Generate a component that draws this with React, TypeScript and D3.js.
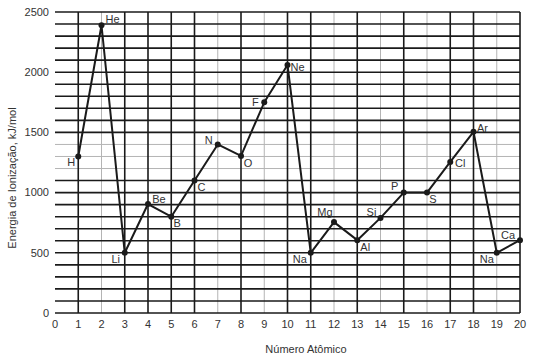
import * as d3 from 'd3'

// data
const atomicNumbers = [1, 2, 3, 4, 5, 6, 7, 8, 9, 10, 11, 12, 13, 14, 15, 16, 17, 18, 19, 20]
const energies = [1300, 2390, 500, 905, 800, 1100, 1400, 1305, 1750, 2060, 500, 755, 605, 790, 1000, 1000, 1255, 1505, 500, 605]
const symbols = ['H', 'He', 'Li', 'Be', 'B', 'C', 'N', 'O', 'F', 'Ne', 'Na', 'Mg', 'Al', 'Si', 'P', 'S', 'Cl', 'Ar', 'Na', 'Ca']
const xTicks = d3.range(0, 21)
const yTicks = [0, 500, 1000, 1500, 2000, 2500]
const gridY = d3.range(0, 2600, 100)
const grayGridY = [1200, 1300, 1400]
const grayGridX = [2, 7, 9, 12, 14, 16, 19]

// label offsets (px) from each point
const labelOffsets: [number, number][] = [
  [-7, 6], [11, -6], [-9, 6], [11, -5], [6, 6], [7, 7], [-9, -4], [7, 7], [-9, 0], [10, 2],
  [-11, 6], [-9, -10], [8, 7], [-9, -6], [-9, -6], [6, 7], [10, 1], [9, -4], [-10, 6], [-12, -5],
]

const W = 552
const H = 362
const margin = { top: 12, right: 32, bottom: 49, left: 55 }
const font = "'Liberation Sans', Arial, sans-serif"

export default function App() {
  const x = d3.scaleLinear().domain([0, 20]).range([margin.left, W - margin.right])
  const y = d3.scaleLinear().domain([0, 2500]).range([H - margin.bottom, margin.top])

  const line = d3.line<number>()
    .x((_, i) => x(atomicNumbers[i]))
    .y(d => y(d))

  const black = '#1a1a1a'
  const gray = '#b4b4b4'

  return (
    <svg width={W} height={H} style={{ position: 'absolute', left: 0, top: 0, background: '#fff' }}>
      {/* gray grid first */}
      {gridY.filter(v => grayGridY.includes(v)).map(v => (
        <line key={'gy' + v} x1={x(0)} x2={x(20)} y1={y(v)} y2={y(v)} stroke={gray} strokeWidth={1} />
      ))}
      {xTicks.filter(t => grayGridX.includes(t)).map(t => (
        <line key={'gx' + t} x1={x(t)} x2={x(t)} y1={y(0)} y2={y(2500)} stroke={gray} strokeWidth={1} />
      ))}
      {gridY.filter(v => !grayGridY.includes(v)).map(v => (
        <line key={'by' + v} x1={x(0)} x2={x(20)} y1={y(v)} y2={y(v)} stroke={black} strokeWidth={1.6} />
      ))}
      {xTicks.filter(t => t > 0 && !grayGridX.includes(t)).map(t => (
        <line key={'bx' + t} x1={x(t)} x2={x(t)} y1={y(0)} y2={y(2500)} stroke={black} strokeWidth={1.6} />
      ))}

      {/* tick labels */}
      {yTicks.map(v => (
        <text key={'yl' + v} x={x(0) - 6} y={y(v)} dy="0.35em" textAnchor="end" fontFamily={font} fontSize={11} fill="#333">{v}</text>
      ))}
      {xTicks.map(t => (
        <text key={'xl' + t} x={x(t)} y={y(0) + 11} dy="0.35em" textAnchor="middle" fontFamily={font} fontSize={11} fill="#333">{t}</text>
      ))}

      {/* axis titles */}
      <text x={306} y={349} dy="0.35em" textAnchor="middle" fontFamily={font} fontSize={11} fill="#333">Número Atômico</text>
      <text transform="translate(12,178) rotate(-90)" dy="0.35em" textAnchor="middle" fontFamily={font} fontSize={11} fill="#333">Energia de Ionização,  kJ/mol</text>

      {/* series */}
      <path d={line(energies) ?? ''} fill="none" stroke={black} strokeWidth={2} strokeLinejoin="round" />
      {energies.map((v, i) => (
        <circle key={'p' + i} cx={x(atomicNumbers[i])} cy={y(v)} r={3} fill={black} />
      ))}
      {energies.map((v, i) => (
        <text key={'l' + i} x={x(atomicNumbers[i]) + labelOffsets[i][0]} y={y(v) + labelOffsets[i][1]} dy="0.35em"
          textAnchor="middle" fontFamily={font} fontSize={11} fill="#333">{symbols[i]}</text>
      ))}
    </svg>
  )
}
